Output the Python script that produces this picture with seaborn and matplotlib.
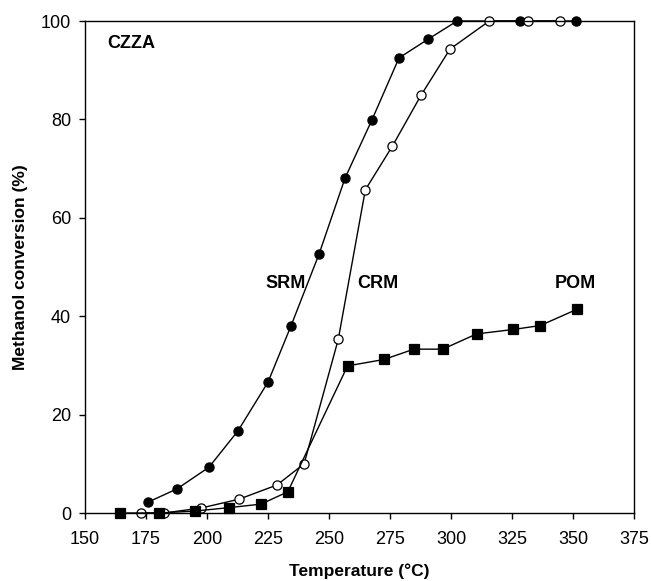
import matplotlib
matplotlib.use("Agg")
import matplotlib.pyplot as plt
import seaborn as sns
import pandas as pd

# Methanol conversion over the CZZA catalyst
srm_temp = [175.8, 187.7, 200.8, 212.7, 225.0, 234.4, 245.9, 256.6, 267.6, 278.7, 290.6, 302.5, 328.3, 351.2]
srm_conv = [2.2, 4.9, 9.3, 16.7, 26.6, 38.0, 52.6, 68.1, 79.9, 92.5, 96.3, 100, 100, 100]

crm_temp = [173.0, 182.3, 197.5, 213.1, 228.7, 239.8, 253.8, 264.9, 275.9, 287.7, 299.6, 315.7, 331.7, 344.7]
crm_conv = [0, 0, 1.0, 2.8, 5.7, 10.0, 35.3, 65.7, 74.5, 84.9, 94.3, 100, 100, 100]

pom_temp = [164.4, 180.5, 195.2, 209.2, 222.1, 233.1, 257.6, 272.5, 284.8, 296.6, 310.5, 325.5, 336.6, 351.6]
pom_conv = [0, 0, 0.4, 1.1, 1.8, 4.3, 29.9, 31.2, 33.3, 33.3, 36.4, 37.3, 38.1, 41.4]

x_ticks = [150, 175, 200, 225, 250, 275, 300, 325, 350, 375]
y_ticks = [0, 20, 40, 60, 80, 100]

sns.set_style("ticks")
plt.rcParams["font.family"] = ["Liberation Sans", "DejaVu Sans"]
plt.rcParams["text.color"] = "black"
plt.rcParams["axes.labelcolor"] = "black"

fig = plt.figure(figsize=(6.51, 5.81), dpi=100)
fig.subplots_adjust(left=85 / 651, right=634 / 651, top=1 - 21 / 581, bottom=1 - 513 / 581)
ax = fig.add_subplot(111)

series = [
    ("SRM", srm_temp, srm_conv, dict(marker="o", markersize=6.6, markerfacecolor="black")),
    ("CRM", crm_temp, crm_conv, dict(marker="o", markersize=6.6, markerfacecolor="white")),
    ("POM", pom_temp, pom_conv, dict(marker="s", markersize=6.8, markerfacecolor="black")),
]

for name, t, c, style in series:
    df = pd.DataFrame({"Temperature": t, "Conversion": c})
    sns.lineplot(data=df, x="Temperature", y="Conversion", ax=ax, color="black",
                 linewidth=1.0, markeredgecolor="black", markeredgewidth=0.9,
                 estimator=None, sort=False, legend=False, **style)

for line in ax.lines:
    line.set_clip_on(False)

ax.set_xlim(150, 375)
ax.set_ylim(0, 100)
ax.set_xticks(x_ticks)
ax.set_yticks(y_ticks)
ax.tick_params(axis="both", direction="out", length=4, width=1, labelsize=13,
               colors="black")
ax.tick_params(axis="x", pad=9)
ax.tick_params(axis="y", pad=6)
for side in ["left", "bottom", "top", "right"]:
    ax.spines[side].set_visible(True)
    ax.spines[side].set_linewidth(1.0)
    ax.spines[side].set_color("black")

ax.set_xlabel("Temperature (°C)", fontsize=12.5, fontweight="bold", labelpad=11)
ax.set_ylabel("Methanol conversion (%)", fontsize=12.5, fontweight="bold", labelpad=9)

ax.text(107 / 651, 1 - 43 / 581, "CZZA", transform=fig.transFigure, fontsize=13,
        fontweight="bold", ha="left", va="center")
# series labels placed beside their curves
ax.text(232.4, 46.7, "SRM", fontsize=13, fontweight="bold", ha="center", va="center")
ax.text(270.1, 46.7, "CRM", fontsize=13, fontweight="bold", ha="center", va="center")
ax.text(350.8, 46.7, "POM", fontsize=13, fontweight="bold", ha="center", va="center")

fig.savefig("out.png", dpi=100)
